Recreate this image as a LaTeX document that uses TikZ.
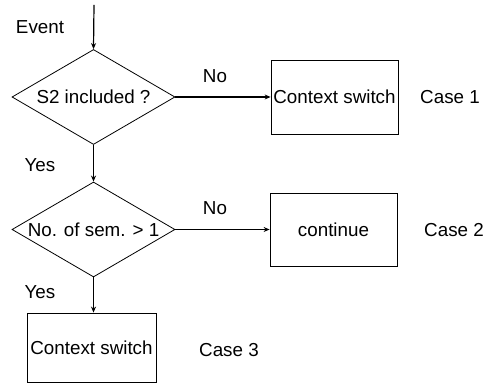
\documentclass[tikz,border=0pt]{standalone}
\usepackage{fontspec}
\setmainfont{Liberation Sans}
\usetikzlibrary{shapes.geometric,arrows.meta}

\begin{document}
\begin{tikzpicture}[x=0.5pt, y=0.5pt, font=\fontsize{9.4}{10}\selectfont,
decision/.style={diamond, draw, thin, aspect=1.7, inner sep=0pt,
minimum width=81.5pt, minimum height=47.5pt},
block/.style={rectangle, draw, thin, inner sep=0pt},
flow/.style={-{Stealth[length=3pt,width=2.5pt]}, semithick}]
\useasboundingbox (0,0) rectangle (497,389);
\coordinate (start) at (94,384);
\node [decision] (q_s2) at (93.5,292) {S2 included ?};
\node [decision] (q_sem) at (93.5,159.5) {No. of sem. > 1};
\node [block, minimum width=63.5pt, minimum height=37pt] (cs_1) at (334.5,292) {Context switch};
\node [block, minimum width=63.5pt, minimum height=36.5pt] (cont) at (333.5,159) {continue};
\node [block, minimum width=64.5pt, minimum height=34.5pt] (cs_3) at (91.5,41.5) {Context switch};
\node (l_event) at (40,362) {Event};
\node (l_no1) at (215,313) {No};
\node (l_yes1) at (40,224) {Yes};
\node (l_no2) at (215,181) {No};
\node (l_yes2) at (40,97) {Yes};
\node (case_1) at (450,292) {Case 1};
\node (case_2) at (454,159) {Case 2};
\node (case_3) at (229,39) {Case 3};
\path [flow]
(start) edge (q_s2.north)
(q_s2.east) edge (cs_1.west)
(q_s2.south) edge (q_sem.north)
(q_sem.east) edge (q_sem.east -| cont.west)
(q_sem.south) edge (q_sem.south |- cs_3.north);
\end{tikzpicture}
\end{document}
